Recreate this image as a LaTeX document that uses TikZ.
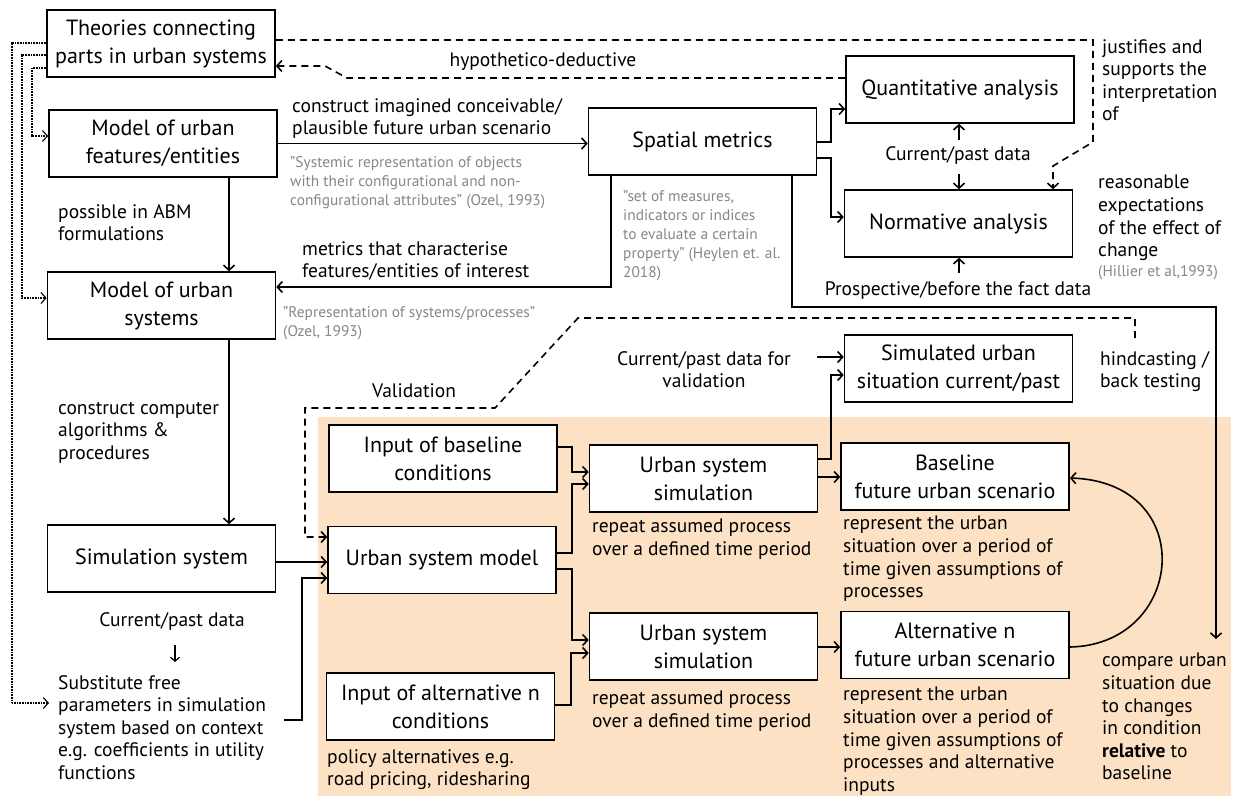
\documentclass[tikz,border=0pt]{standalone}
\usepackage{fontspec}
\setmainfont{PT Sans}
\usetikzlibrary{arrows.meta}
\definecolor{peach}{RGB}{253,225,196}
\definecolor{quotegray}{RGB}{135,135,135}
\newcommand\boxfont{\fontsize{22}{28}\selectfont}
\newcommand\notefont{\fontsize{19.5}{22.6}\selectfont}
\newcommand\quotefont{\fontsize{15.4}{19}\selectfont}

\begin{document}
\begin{tikzpicture}[x=1pt,y=-1pt,
  box/.style={draw, line width=1.6pt, fill=white, minimum width=228pt, minimum height=67pt,
              inner sep=0pt, align=center, font=\boxfont},
  note/.style={inner sep=0pt, anchor=north west, align=left, font=\notefont},
  cnote/.style={inner sep=0pt, align=center, font=\notefont},
  qnote/.style={inner sep=0pt, anchor=north west, align=left, font=\quotefont, text=quotegray},
  arr/.style={line width=1.6pt, -{Straight Barb[length=5pt,width=11pt]}},
  dsh/.style={dash pattern=on 7pt off 5pt},
  dotline/.style={line width=1.1pt, dash pattern=on 0.8pt off 0.8pt},
]
\useasboundingbox (0,0) rectangle (1236,796);
\fill[white] (0,0) rectangle (1236,796);

% scenario area
\fill[peach] (318,417) rectangle (1231,796);

% boxes
\node[box] (th)  at (161,43.5)   {Theories connecting\\parts in urban systems};
\node[box] (mf)  at (163,143.5)  {Model of urban\\features/entities};
\node[box] (ms)  at (161.5,305.5){Model of urban\\systems};
\node[box] (ss)  at (161.5,558.5){Simulation system};
\node[box] (sm)  at (702.5,141.5){Spatial metrics};
\node[box] (qa)  at (960,89.5)   {Quantitative analysis};
\node[box] (na)  at (958.5,223.5){Normative analysis};
\node[box] (sim) at (958.5,368.5){Simulated urban\\situation current/past};
\node[box] (ib)  at (443,458.5)  {Input of baseline\\conditions};
\node[box] (ust) at (703.5,478.5){Urban system\\simulation};
\node[box] (bf)  at (955,476.5)  {Baseline\\future urban scenario};
\node[box] (usm) at (442,560)    {Urban system model};
\node[box] (usb) at (703.5,646.5){Urban system\\simulation};
\node[box] (ia)  at (440.5,706.5){Input of alternative n\\conditions};
\node[box] (alt) at (955,645)    {Alternative n\\future urban scenario};

% annotations
\node[note]  (n1)   at (292,98)   {construct imagined conceivable/\\plausible future urban scenario};
\node[note]  (n2)   at (58,204)   {possible in ABM\\formulations};
\node[note]  (n3)   at (302,241)  {metrics that characterise\\features/entities of interest};
\node[note]  (n4)   at (1102,39)  {justifies and\\supports the\\interpretation\\of};
\node[note]  (n5)   at (1098,175) {reasonable\\expectations\\of the effect of\\change};
\node[cnote] (hd)   at (543,62)   {hypothetico-deductive};
\node[cnote] (cpd)  at (958,156)  {Current/past data};
\node[cnote] (pfd)  at (958,290)  {Prospective/before the fact data};
\node[note]  (hind) at (1100,351) {hindcasting /\\back testing};
\node[cnote, anchor=north] (cpv) at (704,351) {Current/past data for\\validation};
\node[note]  (val)  at (372,383)  {Validation};
\node[note]  (alg)  at (58,402)   {construct computer\\algorithms \&\\procedures};
\node[note]  (rp1)  at (592,519)  {repeat assumed process\\over a defined time period};
\node[note]  (rp2)  at (592,691)  {repeat assumed process\\over a defined time period};
\node[note]  (rs1)  at (843,516)  {represent the urban\\situation over a period of\\time given assumptions of\\processes};
\node[note]  (rs2)  at (843,687)  {represent the urban\\situation over a period of\\time given assumptions of\\processes and alternative\\inputs};
\node[note]  (cmp)  at (1102,653) {compare urban\\situation due\\to changes\\in condition\\\textbf{relative} to\\baseline};
\node[cnote] (cpl)  at (172,621)  {Current/past data};
\node[note]  (sub)  at (58,675)   {Substitute free\\parameters in simulation\\system based on context\\e.g. coefficients in utility\\functions};
\node[note]  (pol)  at (327,749)  {policy alternatives e.g.\\road pricing, ridesharing};

% quoted definitions
\node[qnote] (q1) at (290,156) {"Systemic representation of objects\\with their configurational and non-\\configurational attributes" (Ozel, 1993)};
\node[qnote] (q2) at (283,306) {"Representation of systems/processes"\\(Ozel, 1993)};
\node[qnote] (q3) at (623,190) {"set of measures,\\indicators or indices\\to evaluate a certain\\property" (Heylen et. al.\\2018)};
\node[qnote] (q4) at (1098,265) {(Hillier et al,1993)};

% free ends
\coordinate (hc)   at (1135,338);
\coordinate (cpvo) at (817,357);

% theory feedback (dotted)
\draw[arr, dotline, shorten >=9pt] (th.west |- 0,43) -| (12,703) -- (sub.west |- 0,703);
\draw[arr, dotline] (th.west |- 0,55) -| (22,298) -- (ms.west |- 0,298);
\draw[arr, dotline] (th.west |- 0,68) -| (32,136) -- (mf.west |- 0,136);

% dashed links
\draw[arr, dsh] (th.east |- 0,40) -- (1093,40) -- (1093,142) -- (1053,166) -- (na.north -| 1053,0);
\draw[arr, dsh] (qa.west |- 0,78) -- (347,78) -- (325,66) -- (th.east |- 0,66);
\draw[arr, dsh] (hc) -- (1135,318) -- (578,318) -- (495,408) -- (305,408) -- (305,537) -- (usm.west |- 0,537);

% model chain
\draw[arr] (mf.east) -- (mf.east -| sm.west);
\draw[arr] (mf.south -| 229,0) -- (ms.north -| 229,0);
\draw[arr] (ms.south -| 229,0) -- (ss.north -| 229,0);
\draw[arr] (sm.south -| 611,0) |- (ms.east |- 0,287);
\draw[arr] (sm.east |- 0,142) -| (831,109) -- (qa.west |- 0,109);
\draw[arr] (sm.east |- 0,158) -| (831,217) -- (na.west |- 0,217);
\draw[arr, shorten >=14pt] (sm.south -| 792,0) |- (1216,307) -- (cmp.north -| 1216,0);
\draw[arr, shorten <=7pt] (cpd.north -| 959,0) -- (qa.south -| 959,0);
\draw[arr, shorten <=9pt] (cpd.south -| 959,0) -- (na.north -| 959,0);
\draw[arr, shorten <=8pt] (pfd.north -| 959,0) -- (na.south -| 959,0);

% simulation chain
\draw[arr] (cpvo) -- (sim.west |- cpvo);
\draw[arr] (ust.east |- 0,459) -| (831,375) -- (sim.west |- 0,375);
\draw[arr] (ust.east |- 0,477) -- (bf.west |- 0,477);
\draw[arr] (ib.east |- 0,447) -| (572,472) -- (ust.west |- 0,472);
\draw[arr] (usm.east |- 0,553) -| (572,484) -- (ust.west |- 0,484);
\draw[arr] (usm.east |- 0,569) -| (572,640) -- (usb.west |- 0,640);
\draw[arr] (ia.east |- 0,705) -| (571,653) -- (usb.west |- 0,653);
\draw[arr] (ss.east |- 0,562) -- (usm.west |- 0,562);
\draw[arr, shorten <=18pt] (sub.east |- 0,720) -| (302,578) -- (usm.west |- 0,578);
\draw[arr] (usb.east |- 0,647) -- (alt.west |- 0,647);
\draw[arr] (alt.east |- 0,647) .. controls (1185,645) and (1200,482) .. (bf.east |- 0,478);
\draw[line width=1.2pt, -{Straight Barb[length=4pt,width=9pt]}, shorten <=15pt, shorten >=13pt]
  (cpl.south -| 175,0) -- (sub.north -| 175,0);
\end{tikzpicture}
\end{document}
